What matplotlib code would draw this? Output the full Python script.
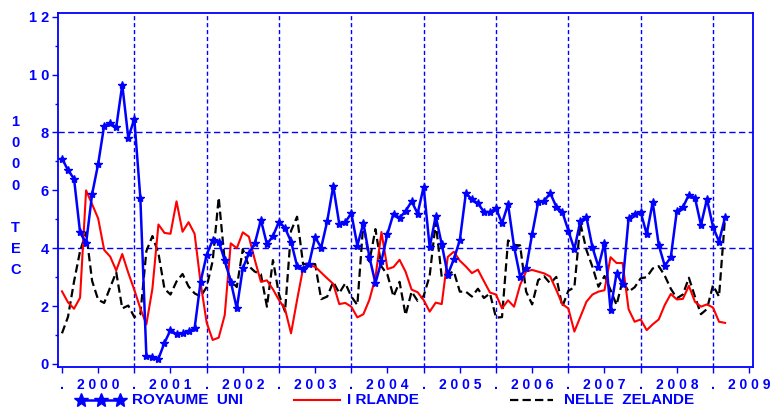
import matplotlib
matplotlib.use("Agg")
import matplotlib.pyplot as plt
import numpy as np

plt.rcParams['font.family'] = ['Liberation Sans', 'DejaVu Sans']
plt.rcParams['font.weight'] = 'bold'
plt.rcParams['lines.scale_dashes'] = False

# ---------------- data (monthly, starting January 2000) ----------------
start_year = 2000
royaume_uni = [7.1, 6.7, 6.4, 4.55, 4.17, 5.87, 6.91, 8.24, 8.32, 8.18, 9.65, 7.82,
               8.47, 5.74, 0.27, 0.24, 0.18, 0.73, 1.17, 1.03, 1.06, 1.14, 1.23, 2.85,
               3.77, 4.28, 4.23, 3.59, 2.85, 1.92, 3.31, 3.82, 4.17, 4.98, 4.14, 4.42,
               4.92, 4.70, 4.23, 3.39, 3.28, 3.47, 4.38, 4.02, 4.93, 6.15, 4.84, 4.90,
               5.21, 4.09, 4.87, 3.70, 2.79, 3.56, 4.50, 5.20, 5.05, 5.28, 5.62, 5.20,
               6.12, 4.03, 5.11, 4.14, 3.08, 3.62, 4.28, 5.90, 5.69, 5.55, 5.26, 5.24,
               5.38, 4.86, 5.52, 4.05, 3.02, 3.31, 4.49, 5.59, 5.64, 5.90, 5.44, 5.26,
               4.61, 3.96, 4.95, 5.07, 4.03, 3.36, 4.19, 1.87, 3.13, 2.76, 5.03, 5.20,
               5.25, 4.49, 5.59, 4.11, 3.39, 3.69, 5.29, 5.41, 5.85, 5.75, 4.80, 5.70,
               4.74, 4.23, 5.07]
irlande = [2.51, 2.13, 1.91, 2.29, 6.00, 5.52, 5.03, 3.94, 3.71, 3.23, 3.80, 3.15,
           2.56, 1.92, 1.37, 2.60, 4.82, 4.53, 4.50, 5.62, 4.57, 4.90, 4.50, 2.80,
           1.43, 0.83, 0.91, 1.69, 4.17, 4.00, 4.55, 4.40, 3.59, 2.84, 2.89, 2.58,
           2.21, 1.90, 1.06, 2.21, 3.31, 3.41, 3.36, 3.16, 2.96, 2.77, 2.07, 2.11,
           1.98, 1.61, 1.72, 2.22, 2.99, 4.56, 3.28, 3.35, 3.60, 3.19, 2.57, 2.48,
           2.21, 1.81, 2.12, 2.07, 3.70, 3.88, 3.57, 3.37, 3.14, 3.26, 2.86, 2.47,
           2.40, 1.92, 2.20, 1.98, 2.73, 3.20, 3.25, 3.19, 3.13, 3.02, 2.56, 2.07,
           1.92, 1.12, 1.63, 2.15, 2.40, 2.50, 2.55, 3.69, 3.49, 3.49, 1.89, 1.46,
           1.54, 1.17, 1.37, 1.54, 2.04, 2.42, 2.23, 2.25, 2.70, 2.15, 1.98, 2.06,
           1.95, 1.46, 1.42]
nelle_zelande = [1.06, 1.63, 2.85, 3.90, 4.55, 2.87, 2.22, 2.11, 2.65, 3.17, 1.92, 2.02,
                 1.62, 1.72, 3.90, 4.42, 3.83, 2.60, 2.40, 2.85, 3.11, 2.68, 2.44, 2.33,
                 2.66, 3.56, 5.75, 3.55, 2.87, 2.66, 3.97, 3.38, 3.19, 3.10, 1.98, 3.59,
                 2.40, 1.81, 4.60, 5.09, 3.45, 3.47, 3.45, 2.24, 2.33, 2.84, 2.45, 2.79,
                 2.33, 2.04, 4.90, 3.54, 4.66, 3.37, 3.08, 2.33, 2.84, 1.69, 2.50, 2.18,
                 2.35, 3.05, 4.90, 3.00, 3.10, 3.20, 2.50, 2.50, 2.33, 2.60, 2.28, 2.44,
                 1.60, 1.62, 4.27, 4.11, 4.10, 2.50, 2.06, 2.90, 3.03, 2.78, 3.01, 1.98,
                 2.53, 2.65, 4.86, 3.94, 3.36, 2.67, 3.04, 2.56, 2.04, 2.88, 2.50, 2.65,
                 2.96, 3.00, 3.30, 3.38, 3.05, 2.60, 2.27, 2.40, 2.98, 2.33, 1.72, 1.90,
                 2.72, 2.33, 5.08]
series_labels = ["ROYAUME  UNI", "I RLANDE", "NELLE  ZELANDE"]
year_labels = [2000, 2001, 2002, 2003, 2004, 2005, 2006, 2007, 2008, 2009]
y_ticks = [0, 2, 4, 6, 8, 10, 12]
y_grid = [4, 8]
ylabel_chars = ["1", "0", "0", "0", "", "T", "E", "C"]

BLUE = "#0000FF"
RED = "#FF0000"
BLACK = "#000000"

x = start_year + np.arange(len(royaume_uni)) / 12.0

fig = plt.figure(figsize=(7.7, 4.07), dpi=100)
W, H = 770, 407
ax = fig.add_axes([58 / W, 40 / H, 695 / W, 354.5 / H])

# grid lines
for yv in y_grid:
    ax.axhline(yv, color=BLUE, lw=1.0, linestyle=(0, (4.5, 2.5)), zorder=1)
for yr in year_labels[1:]:
    ax.axvline(yr, color=BLUE, lw=1.0, linestyle=(0, (3.0, 2.0)), zorder=1)

# series
ax.plot(x, royaume_uni, color=BLUE, lw=1.8, marker='*', markersize=6,
        markerfacecolor=BLUE, markeredgecolor=BLUE, zorder=4)
ax.plot(x, irlande, color=RED, lw=1.5, zorder=3)
ax.plot(x, nelle_zelande, color=BLACK, lw=1.6, linestyle=(0, (6.0, 3.0)), zorder=2)

ax.set_xlim(1999.945, 2009.553)
ax.set_ylim(-0.104, 12.146)

# ticks
xt = []
xl = []
for yr in year_labels:
    xt.append(yr)
    xl.append(".")
    xt.append(yr + 0.5)
    xl.append(" ".join(str(yr)))
ax.set_xticks(xt)
ax.set_xticklabels(xl)
ax.set_yticks(y_ticks)
ax.set_yticklabels([" ".join(str(v)) for v in y_ticks])
ax.set_yticks([v + 1 for v in y_ticks[:-1]], minor=True)
ax.tick_params(axis='both', which='major', colors=BLUE, labelcolor=BLUE,
               labelsize=10, length=4, width=1)
ax.tick_params(axis='y', which='major', pad=2.5, labelsize=10.5)
ax.tick_params(axis='x', which='major', pad=4)
ax.tick_params(axis='y', which='minor', colors=BLUE, length=2.5, width=1)
for lab in ax.get_xticklabels() + ax.get_yticklabels():
    lab.set_fontweight('bold')

for sp in ax.spines.values():
    sp.set_color(BLUE)
    sp.set_linewidth(1.3)

# overlay in pixel coordinates for y label and legend
ov = fig.add_axes([0, 0, 1, 1])
ov.set_xlim(0, W)
ov.set_ylim(H, 0)
ov.axis('off')
ov.patch.set_alpha(0)

y0 = 122
for k, ch in enumerate(ylabel_chars):
    if ch:
        ov.text(15.5, y0 + k * 21.2, ch, color=BLUE, fontsize=10.5, fontweight='bold',
                ha='center', va='center')

ly = 400
ov.plot([78, 123], [ly, ly], color=BLUE, lw=1.8)
ov.plot([80.5, 100.5, 120], [ly, ly, ly], linestyle='none', marker='*', markersize=10,
        color=BLUE)
ov.text(132, ly, series_labels[0], color=BLUE, fontsize=11, fontweight='bold',
        ha='left', va='center')
ov.plot([294, 340], [ly, ly], color=RED, lw=1.5)
ov.text(347, ly, series_labels[1], color=BLUE, fontsize=11, fontweight='bold',
        ha='left', va='center')
ov.plot([510, 553], [ly, ly], color=BLACK, lw=1.6, linestyle=(0, (6.0, 3.0)))
ov.text(564, ly, series_labels[2], color=BLUE, fontsize=11, fontweight='bold',
        ha='left', va='center')

fig.savefig("out.png", dpi=100)
